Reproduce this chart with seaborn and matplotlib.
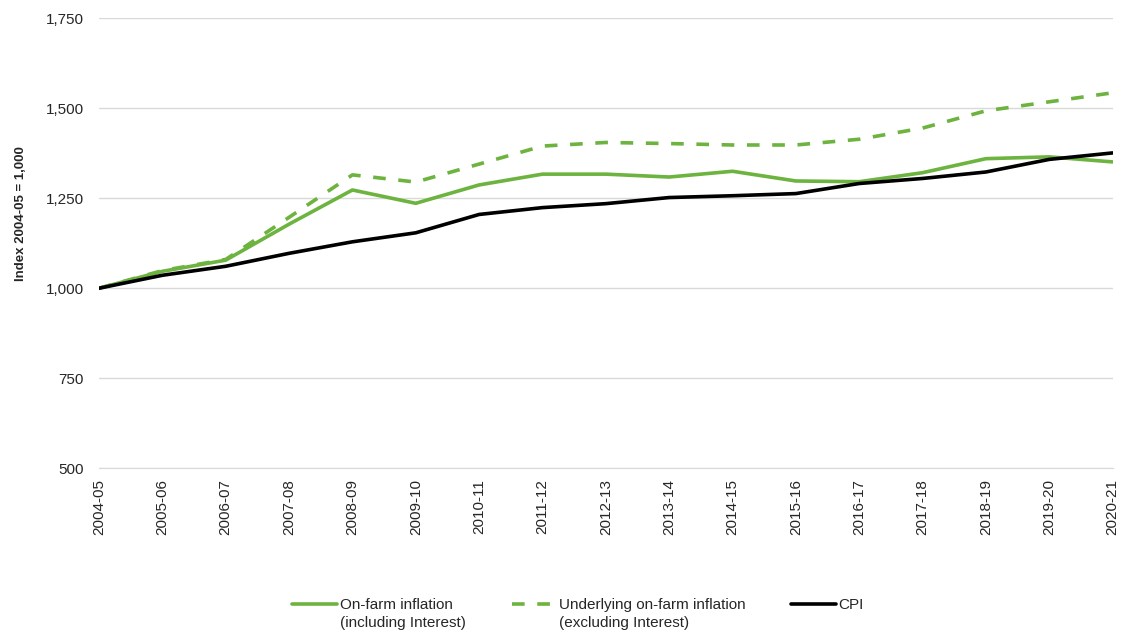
import numpy as np
import pandas as pd
import matplotlib.pyplot as plt
import seaborn as sns
from matplotlib.legend_handler import HandlerLine2D

years = ["2004-05", "2005-06", "2006-07", "2007-08", "2008-09", "2009-10",
         "2010-11", "2011-12", "2012-13", "2013-14", "2014-15", "2015-16",
         "2016-17", "2017-18", "2018-19", "2019-20", "2020-21"]

on_farm = [1000, 1047, 1078, 1178, 1273, 1236, 1287, 1317, 1317, 1309,
           1325, 1298, 1296, 1321, 1360, 1365, 1351]
underlying = [1000, 1049, 1080, 1197, 1315, 1295, 1345, 1395, 1405, 1402,
              1398, 1398, 1414, 1445, 1493, 1518, 1543]
cpi = [1000, 1036, 1061, 1097, 1129, 1154, 1205, 1224, 1235, 1252,
       1257, 1263, 1291, 1305, 1323, 1358, 1376]

lab_on = "On-farm inflation\n(including Interest)"
lab_und = "Underlying on-farm inflation\n(excluding Interest)"
lab_cpi = "CPI"

df = pd.DataFrame({
    "year": years * 3,
    "value": on_farm + underlying + cpi,
    "series": [lab_on] * len(years) + [lab_und] * len(years) + [lab_cpi] * len(years),
})
df["pos"] = list(range(len(years))) * 3


class TopLine(HandlerLine2D):
    # put the legend line level with the first line of a two-line label
    def create_artists(self, legend, orig_handle, xdescent, ydescent,
                       width, height, fontsize, trans):
        return super().create_artists(legend, orig_handle, xdescent,
                                      ydescent - 15, width, height,
                                      fontsize, trans)


sns.set_style("white")
plt.rcParams["font.family"] = ["Liberation Sans", "DejaVu Sans"]

green = "#6DB33F"
grey = "#d9d9d9"
fig, ax = plt.subplots(figsize=(11.25, 6.31), dpi=100)
fig.subplots_adjust(left=0.088, right=0.989, top=0.971, bottom=0.258)

sns.lineplot(data=df, x="pos", y="value", hue="series", style="series",
             palette={lab_on: green, lab_und: green, lab_cpi: "black"},
             dashes={lab_on: "", lab_und: (3.5, 3.5), lab_cpi: ""},
             linewidth=2.6, ax=ax)

ax.set_xlim(0, len(years) - 1)
ax.set_ylim(500, 1750)
ax.set_yticks(np.arange(500, 1751, 250))
ax.set_yticklabels([f"{v:,}" for v in range(500, 1751, 250)])
ax.set_xticks(range(len(years)))
ax.set_xticklabels(years, rotation=90)
ax.grid(axis="y", color=grey, linewidth=1)
ax.set_axisbelow(True)
for s in ["top", "right", "left"]:
    ax.spines[s].set_visible(False)
ax.spines["bottom"].set_color(grey)
ax.tick_params(axis="x", length=6, color=grey, labelsize=11, pad=2)
ax.tick_params(axis="y", length=0, labelsize=11, pad=11)
ax.set_xlabel("")
ax.set_ylabel("Index 2004-05 = 1,000", fontsize=9.5, fontweight="bold")
ax.yaxis.set_label_coords(-0.071, 0.567)

handles, labels = ax.get_legend_handles_labels()
labels = [l if "\n" in l else l + "\n " for l in labels]
leg = fig.legend(handles, labels, loc="center", bbox_to_anchor=(0.514, 0.027),
                 ncol=3, frameon=False, fontsize=11, handlelength=2.9,
                 columnspacing=3.0, handletextpad=0.2, borderpad=0,
                 handler_map={h: TopLine() for h in handles})
for t in leg.get_texts():
    t.set_linespacing(1.35)
ax.get_legend().remove()

plt.savefig("out.png", dpi=100)
